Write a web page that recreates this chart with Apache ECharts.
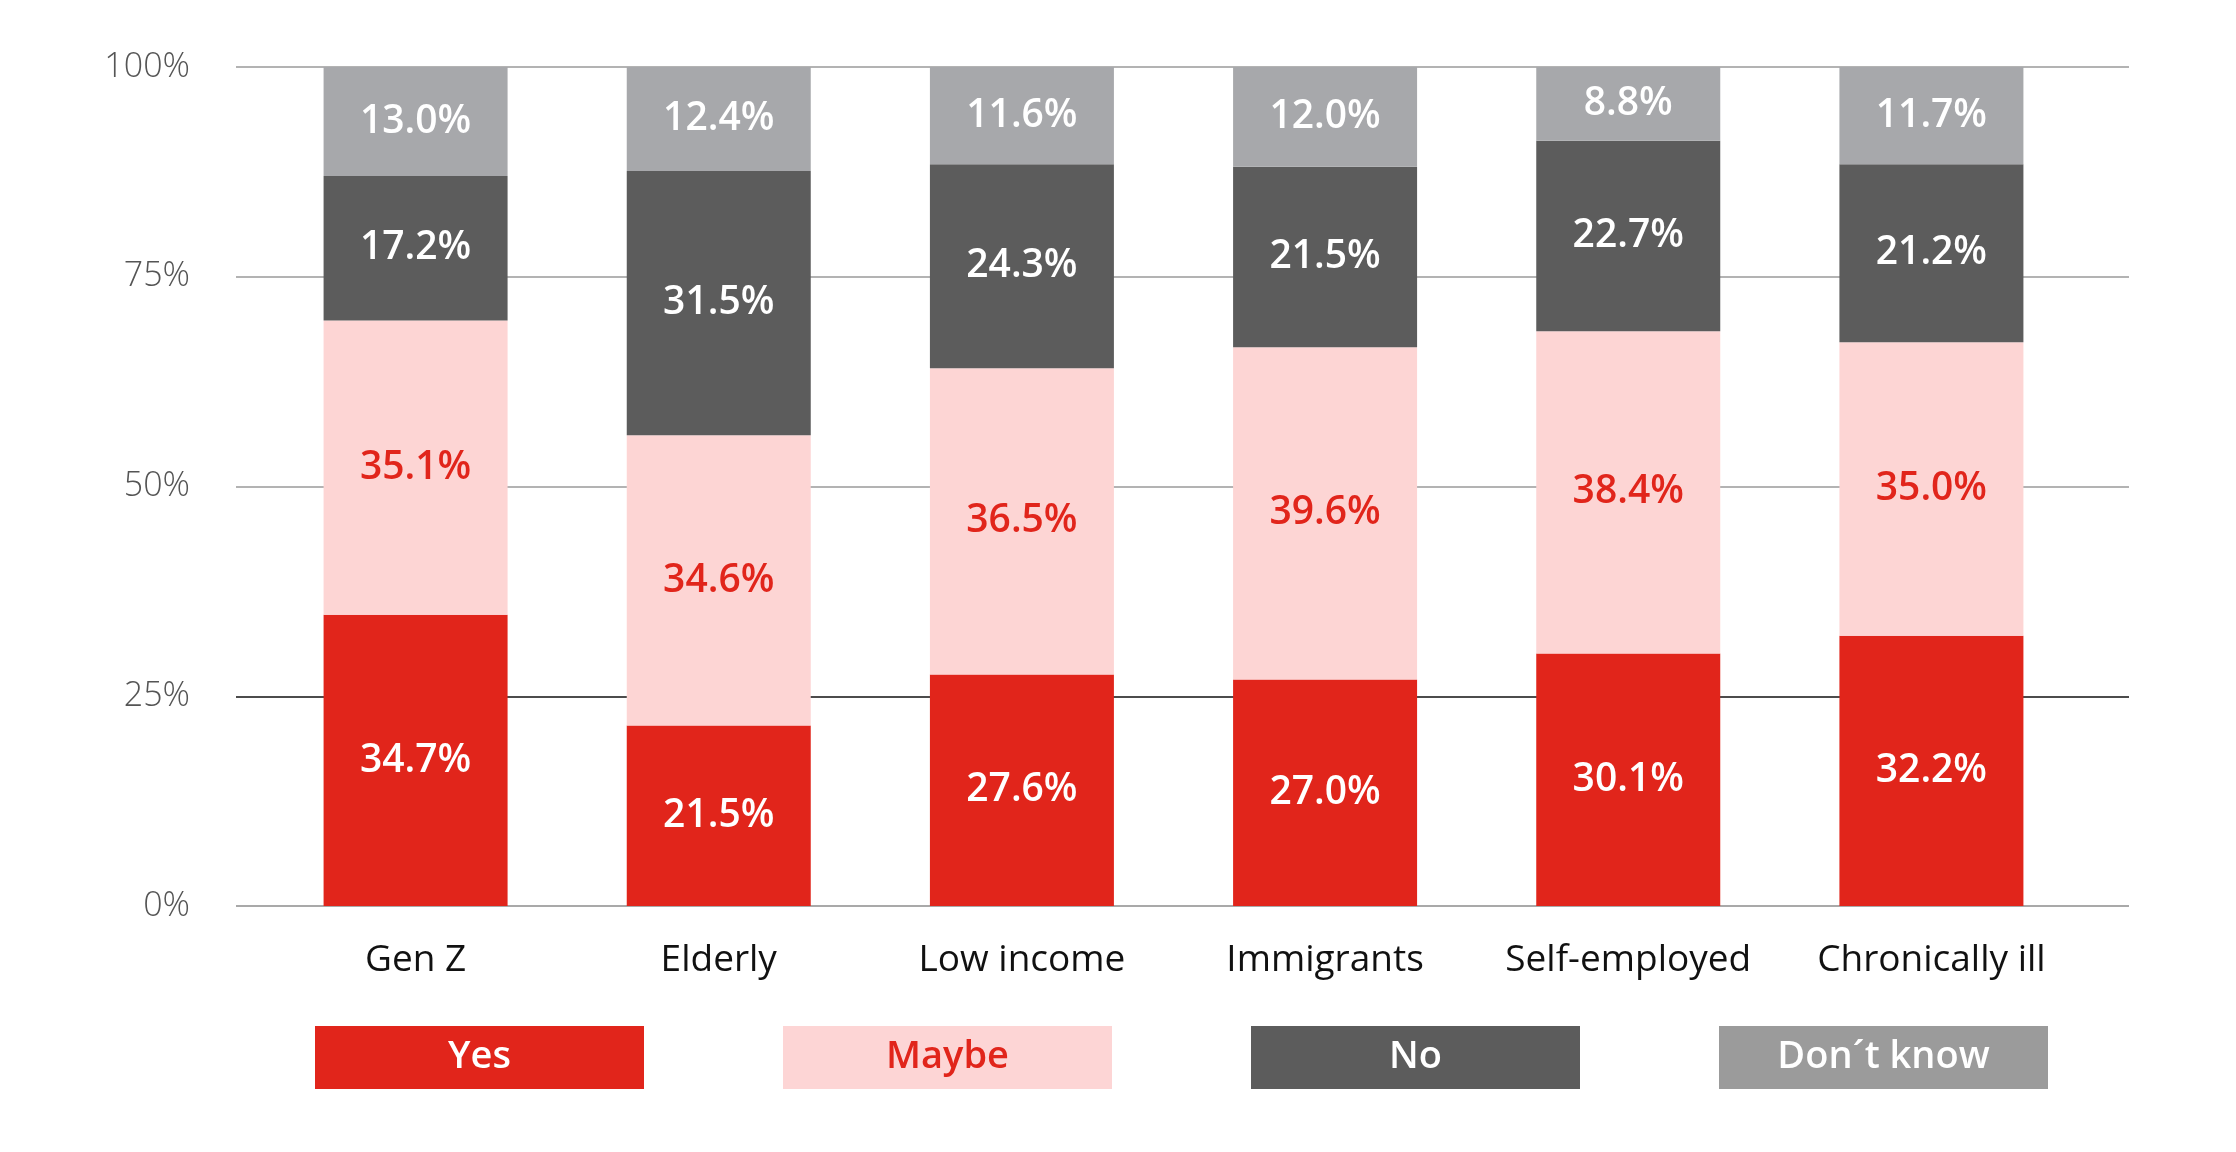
<!DOCTYPE html>
<html>
<head>
<meta charset="utf-8">
<script src="https://cdn.jsdelivr.net/npm/echarts@6/dist/echarts.min.js"></script>
<style>
html,body{margin:0;padding:0;background:#fff;}
#chart{width:2236px;height:1152px;}
</style>
</head>
<body>
<div id="chart"></div>
<script>
const categories = ['Gen Z', 'Elderly', 'Low income', 'Immigrants', 'Self-employed', 'Chronically ill'];
const seriesNames = ['Yes', 'Maybe', 'No', 'Don´t know'];
const yesValues = [34.7, 21.5, 27.6, 27.0, 30.1, 32.2];
const maybeValues = [35.1, 34.6, 36.5, 39.6, 38.4, 35.0];
const noValues = [17.2, 31.5, 24.3, 21.5, 22.7, 21.2];
const dontKnowValues = [13.0, 12.4, 11.6, 12.0, 8.8, 11.7];
const yTicks = [0, 25, 50, 75, 100];

const FONT = '"Open Sans", "Noto Sans", sans-serif';
const barColors = ['#e1251b', '#fdd5d4', '#5c5c5c', '#a7a8ab'];
const labelColors = ['#ffffff', '#e1251b', '#ffffff', '#ffffff'];
const valueSets = [yesValues, maybeValues, noValues, dontKnowValues];
const richKeys = ['yes', 'maybe', 'no', 'dk'];

const chart = echarts.init(document.getElementById('chart'), null, {renderer: 'canvas'});

const series = seriesNames.map((name, i) => ({
  name: name,
  type: 'bar',
  stack: 'total',
  xAxisIndex: 1,
  yAxisIndex: 1,
  barWidth: 184,
  data: valueSets[i],
  itemStyle: {color: barColors[i]},
  label: {
    show: true,
    position: 'inside',
    color: labelColors[i],
    fontFamily: FONT,
    fontSize: 39,
    fontWeight: 600,
    formatter: p => p.value.toFixed(1) + '%'
  },
  emphasis: {disabled: true}
}));

const legendBox = (bg, fg) => ({
  width: 329, height: 63, lineHeight: 63, align: 'center', verticalAlign: 'middle',
  backgroundColor: bg, color: fg, fontFamily: FONT, fontSize: 38, fontWeight: 600
});

chart.setOption({
  animation: false,
  backgroundColor: '#ffffff',
  grid: [
    {left: 236, right: 107, top: 67, bottom: 246},
    {left: 264, right: 153, top: 67, bottom: 246}
  ],
  xAxis: [
    {gridIndex: 0, type: 'value', show: false, min: 0, max: 1},
    {
      gridIndex: 1, type: 'category', data: categories,
      axisLine: {show: false}, axisTick: {show: false},
      axisLabel: {color: '#111', fontFamily: FONT, fontSize: 37, margin: 36, interval: 0, hideOverlap: false}
    }
  ],
  yAxis: [
    {
      gridIndex: 0, type: 'value', min: 0, max: 100, interval: 25,
      axisLine: {show: false}, axisTick: {show: false},
      axisLabel: {
        color: '#555', fontFamily: FONT, fontSize: 34, fontWeight: 300, margin: 46,
        formatter: v => yTicks.includes(v) ? v + '%' : ''
      },
      splitLine: {show: true, lineStyle: {color: ['#8c8c8c', '#111111', '#9a9a9a', '#9a9a9a', '#9a9a9a'], width: 1.6}}
    },
    {gridIndex: 1, type: 'value', min: 0, max: 100, show: false, splitLine: {show: false}}
  ],
  legend: {
    data: seriesNames,
    left: 305, top: 1021,
    icon: 'none', itemWidth: 0, itemHeight: 0, itemGap: 134,
    selectedMode: false,
    formatter: name => '{' + richKeys[seriesNames.indexOf(name)] + '|' + name + '}',
    textStyle: {
      rich: {
        yes: legendBox('#e1251b', '#ffffff'),
        maybe: legendBox('#fdd5d5', '#e1251b'),
        no: legendBox('#5c5c5c', '#ffffff'),
        dk: legendBox('#9b9b9b', '#ffffff')
      }
    }
  },
  series: series
});
</script>
</body>
</html>
